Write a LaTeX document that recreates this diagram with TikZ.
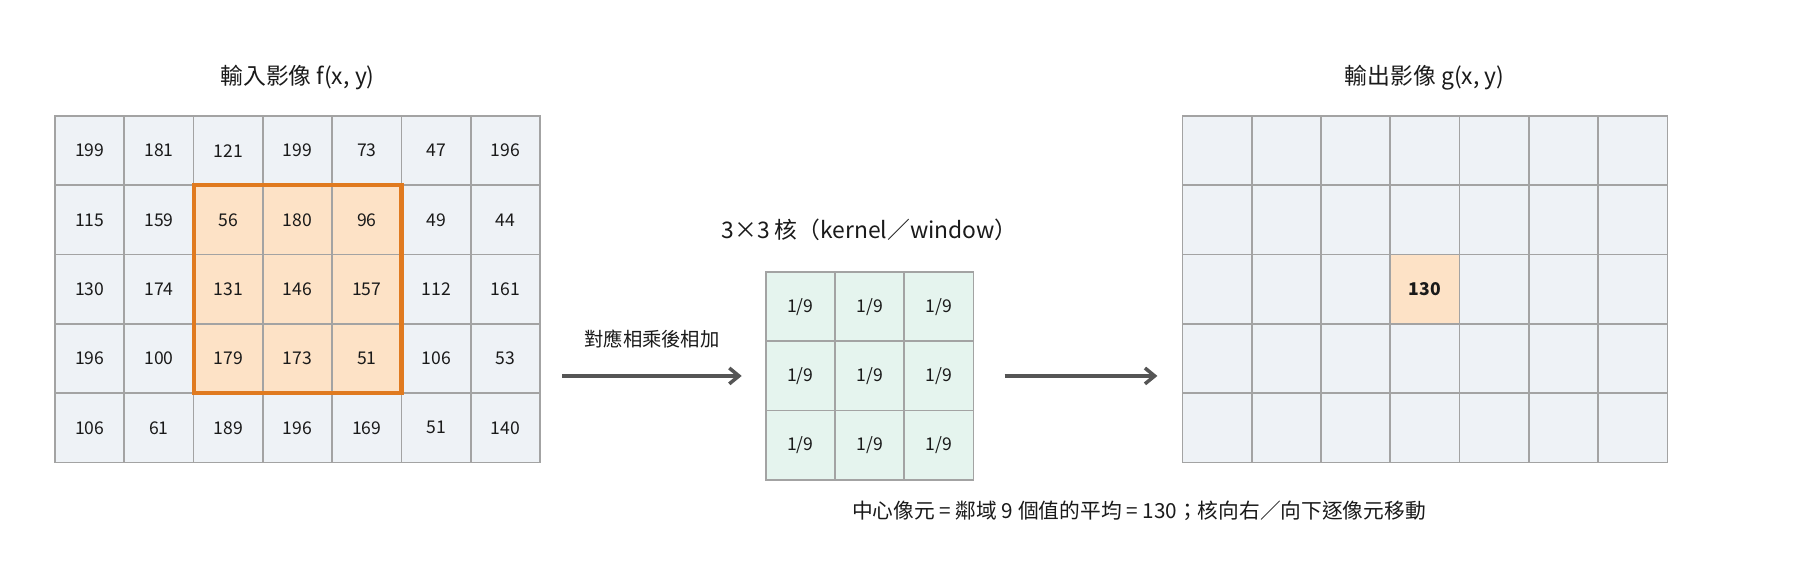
\documentclass[tikz,border=0pt]{standalone}
\usepackage{fontspec}
\setmainfont{Noto Sans CJK TC}
\usepackage{xcolor}
\usetikzlibrary{positioning,arrows.meta}

\definecolor{cellbg}{HTML}{EEF2F6}
\definecolor{kerbg}{HTML}{E5F4EE}
\definecolor{winbg}{HTML}{FDE2C6}
\definecolor{winline}{HTML}{E07A1F}
\definecolor{gridline}{HTML}{A3A3A3}
\definecolor{arrgray}{HTML}{555555}
\definecolor{txt}{HTML}{1A1A1A}

\begin{document}
\begin{tikzpicture}[x=0.02cm,y=-0.02cm]
\tikzstyle{every node}=[font=\fontsize{10}{12}\selectfont, text=txt]
\tikzstyle{cell}=[draw=gridline, line width=1pt, fill=cellbg, minimum size=1.386cm, inner sep=0pt, outer sep=0pt]
\tikzstyle{title}=[font=\fontsize{13}{15}\selectfont]
\tikzstyle{note}=[font=\fontsize{11.8}{14}\selectfont]
\tikzstyle{arr}=[draw=arrgray, line width=2pt, -{Straight Barb[length=5.5pt,width=9pt,line width=2pt]}]
\useasboundingbox[fill=white] (0,0) rectangle (1800,580);

% input image
\foreach \row [count=\r from 0] in {{199,181,121,199,73,47,196},{115,159,56,180,96,49,44},{130,174,131,146,157,112,161},{196,100,179,173,51,106,53},{106,61,189,196,169,51,140}} {
  \foreach \v [count=\c from 0] in \row {
    \pgfmathtruncatemacro\hl{and(and(\r>0,\r<4),and(\c>1,\c<5))}
    \ifnum\hl=1 \def\bg{winbg}\else\def\bg{cellbg}\fi
    \node[cell, fill=\bg] (in-\r-\c) at (89.65+69.3*\c, 150.65+69.3*\r) {\v};
  }
}
\draw[winline, line width=2.3pt] (in-1-2.north west) rectangle (in-3-4.south east);
\node[title] (tin) at (297.5,78) {輸入影像 f(x, y)};

% kernel
\foreach \r in {0,1,2} {
  \foreach \c in {0,1,2} {
    \node[cell, fill=kerbg] (k-\r-\c) at (800.35+69.3*\c, 306.65+69.3*\r) {1/9};
  }
}
\node[title] (tk) at (869.6,230) {3×3 核（kernel／window）};

% output image
\foreach \r in {0,...,4} {
  \foreach \c in {0,...,6} {
    \pgfmathtruncatemacro\hl{and(\r==2,\c==3)}
    \ifnum\hl=1
      \node[cell, fill=winbg, font=\fontsize{10}{12}\selectfont\bfseries] (out-\r-\c) at (1217.05+69.3*\c, 150.65+69.3*\r) {130};
    \else
      \node[cell] (out-\r-\c) at (1217.05+69.3*\c, 150.65+69.3*\r) {};
    \fi
  }
}
\node[title] (tout) at (1424.6,78) {輸出影像 g(x, y)};

% arrows
\draw[arr, shorten <=0.44cm, shorten >=0.48cm] (in-3-6.east |- k-1-0.west) -- (k-1-0.west);
\draw[arr, shorten <=0.62cm, shorten >=0.5cm] (k-1-2.east) -- (out-3-0.west |- k-1-2.east);
\node[font=\fontsize{11}{13}\selectfont] (mul) at (652,339) {對應相乘後相加};
\node[note] (avg) at (1139,511) {中心像元 = 鄰域 9 個值的平均 = 130；核向右／向下逐像元移動};
\end{tikzpicture}
\end{document}
